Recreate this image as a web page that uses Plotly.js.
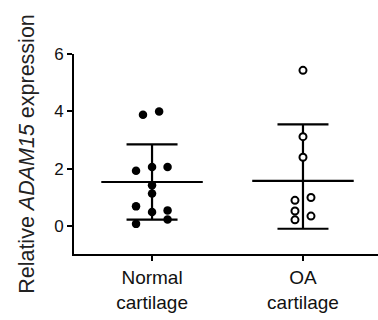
<!DOCTYPE html>
<html>
<head>
<meta charset="utf-8">
<script src="https://cdn.plot.ly/plotly-3.0.1.min.js"></script>
<style>html,body{margin:0;padding:0;background:#fff;}#chart{width:378px;height:320px;}</style>
</head>
<body>
<div id="chart"></div>
<script>
// ---- data ----
const categories = ['Normal<br>cartilage', 'OA<br>cartilage'];
const normalValues = [3.88, 4.00, 1.93, 2.06, 2.06, 1.43, 1.14, 0.69, 0.49, 0.55, 0.23, 0.08];
const oaValues = [5.43, 3.12, 2.40, 0.90, 1.00, 0.53, 0.35, 0.22];
const groupMeans = [1.54, 1.58];
const errorUp = [1.31, 1.97];
const errorDown = [1.31, 1.67];
const yTicks = [0, 2, 4, 6];

// ---- horizontal scatter offsets within each group (layout only) ----
const normalJitter = [-0.06, 0.047, -0.106, 0, 0.103, 0, 0, -0.106, 0, 0.103, 0.103, -0.106];
const oaJitter = [0, 0, 0, -0.053, 0.053, -0.053, 0.053, -0.053];

const catIdx = categories.map((_, i) => i);

const summary = {
  type: 'scatter', mode: 'markers',
  x: catIdx, y: groupMeans,
  marker: {symbol: 'line-ew', size: 72.5, color: 'black', line: {width: 2.2, color: 'black'}},
  error_y: {type: 'data', symmetric: false, array: errorUp, arrayminus: errorDown,
            width: 25.5, thickness: 2.2, color: 'black'},
  hoverinfo: 'skip', showlegend: false, cliponaxis: false
};

const normalPts = {
  type: 'scatter', mode: 'markers',
  x: normalValues.map((_, i) => 0 + normalJitter[i]), y: normalValues,
  marker: {symbol: 'circle', size: 8.5, color: 'black', line: {width: 0}},
  showlegend: false, cliponaxis: false
};

const oaPts = {
  type: 'scatter', mode: 'markers',
  x: oaValues.map((_, i) => 1 + oaJitter[i]), y: oaValues,
  marker: {symbol: 'circle', size: 7, color: 'white', line: {width: 2, color: 'black'}},
  showlegend: false, cliponaxis: false
};

const font = 'Liberation Sans, Arial, sans-serif';

const layout = {
  width: 378, height: 320,
  margin: {l: 74, r: 0, t: 54, b: 66, pad: 0},
  paper_bgcolor: 'white', plot_bgcolor: 'white',
  font: {family: font, color: 'black'},
  showlegend: false,
  xaxis: {
    range: [-0.517, 1.497], tickvals: catIdx, ticktext: categories,
    showline: true, linewidth: 2, linecolor: 'black',
    ticks: 'outside', ticklen: 5, tickwidth: 2, tickcolor: 'black',
    tickfont: {size: 19, family: font, color: '#111'},
    showgrid: false, zeroline: false, fixedrange: true
  },
  yaxis: {
    range: [-0.97, 6.0], tickvals: yTicks, ticktext: yTicks.map(String),
    showline: true, linewidth: 2, linecolor: 'black',
    ticks: 'outside', ticklen: 5, tickwidth: 2, tickcolor: 'black',
    tickfont: {size: 17, family: font, color: '#111'},
    showgrid: false, zeroline: false, fixedrange: true,
    title: {text: 'Relative <i>ADAM15</i> expression', font: {size: 21.5, family: font, color: '#222'}, standoff: 14}
  }
};

Plotly.newPlot('chart', [summary, normalPts, oaPts], layout, {displayModeBar: false, staticPlot: true});
</script>
</body>
</html>
